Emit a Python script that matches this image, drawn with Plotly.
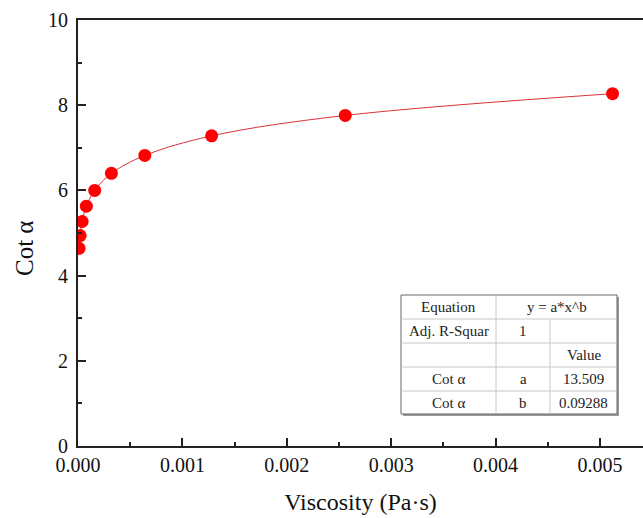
import plotly.graph_objects as go

# ---- data ----
viscosity = [0.00001, 0.00002, 0.00004, 0.00008, 0.00016, 0.00032, 0.00064, 0.00128, 0.00256, 0.00512]
cot_alpha = [4.64, 4.94, 5.27, 5.63, 6.00, 6.40, 6.82, 7.28, 7.76, 8.27]

x_tick_vals = [0.000, 0.001, 0.002, 0.003, 0.004, 0.005]
x_tick_text = ["0.000", "0.001", "0.002", "0.003", "0.004", "0.005"]
y_tick_vals = [0, 2, 4, 6, 8, 10]
y_tick_text = ["0", "2", "4", "6", "8", "10"]

x_title = "Viscosity (Pa·s)"
y_title = "Cot α"

table_rows = [
    ["Equation", "y = a*x^b", None],
    ["Adj. R-Squar", "1", ""],
    ["", "", "Value"],
    ["Cot α", "a", "13.509"],
    ["Cot α", "b", "0.09288"],
]

FONT = "Liberation Serif"
W, H = 643, 518
L, R, T, B = 78, 643, 20, 446  # plot area in pixels

def px(xp):
    return (xp - L) / (R - L)

def py(yp):
    return (B - yp) / (B - T)

fig = go.Figure()

# fitted curve (smooth line through the points)
fig.add_trace(go.Scatter(
    x=viscosity, y=cot_alpha, mode="lines",
    line=dict(color="#d9343a", width=1, shape="spline", smoothing=1.0),
    hoverinfo="skip", showlegend=False,
))
fig.add_trace(go.Scatter(
    x=viscosity, y=cot_alpha, mode="markers",
    marker=dict(color="#ff0000", size=13, line=dict(width=0)),
    showlegend=False,
))

# ---- table ----
tx0, tx1 = 401, 617
col_x = [401, 496, 550, 617]
row_y = [295, 319, 343, 367, 391, 414]
shapes = []
# shadow
shapes.append(dict(type="rect", xref="paper", yref="paper",
                   x0=px(tx0 + 2), x1=px(tx1 + 2), y0=py(row_y[-1] + 2), y1=py(row_y[0] + 2),
                   line=dict(width=0), fillcolor="#9a9a9a", layer="above"))
shapes.append(dict(type="rect", xref="paper", yref="paper",
                   x0=px(tx0), x1=px(tx1), y0=py(row_y[-1]), y1=py(row_y[0]),
                   line=dict(width=1, color="#666666"), fillcolor="white", layer="above"))
for yy in row_y[1:-1]:
    shapes.append(dict(type="line", xref="paper", yref="paper",
                       x0=px(tx0), x1=px(tx1), y0=py(yy), y1=py(yy),
                       line=dict(width=1, color="#c8c8c8"), layer="above"))
shapes.append(dict(type="line", xref="paper", yref="paper",
                   x0=px(col_x[1]), x1=px(col_x[1]), y0=py(row_y[0]), y1=py(row_y[-1]),
                   line=dict(width=1, color="#c8c8c8"), layer="above"))
shapes.append(dict(type="line", xref="paper", yref="paper",
                   x0=px(col_x[2]), x1=px(col_x[2]), y0=py(row_y[1]), y1=py(row_y[-1]),
                   line=dict(width=1, color="#c8c8c8"), layer="above"))

annotations = []
for ri, row in enumerate(table_rows):
    yc = (row_y[ri] + row_y[ri + 1]) / 2
    for ci, txt in enumerate(row):
        if txt is None or txt == "":
            continue
        if ri == 0 and ci == 1:
            xc = (col_x[1] + col_x[3]) / 2
        else:
            xc = (col_x[ci] + col_x[ci + 1]) / 2
        annotations.append(dict(xref="paper", yref="paper", x=px(xc), y=py(yc),
                                text=txt, showarrow=False, xanchor="center", yanchor="middle",
                                font=dict(family=FONT, size=15, color="#222")))

# y-axis title (placed slightly below the axis centre, as in the reference)
annotations.append(dict(xref="paper", yref="paper", x=px(24), y=py(249),
                        text=y_title, textangle=-90, showarrow=False,
                        xanchor="center", yanchor="middle",
                        font=dict(family=FONT, size=25, color="#111")))

fig.update_layout(
    width=W, height=H,
    margin=dict(l=L, r=W - R, t=T, b=H - B),
    paper_bgcolor="white", plot_bgcolor="white",
    font=dict(family=FONT, color="#111"),
    shapes=shapes, annotations=annotations,
    xaxis=dict(
        range=[0, (R - L) / 104.4 * 0.001],
        tickvals=x_tick_vals, ticktext=x_tick_text,
        ticks="inside", ticklen=8, tickwidth=1.5, tickcolor="#222",
        minor=dict(dtick=0.0005, tick0=0, ticks="inside", ticklen=4, tickwidth=1.5, tickcolor="#222"),
        showline=True, linewidth=2, linecolor="#222", mirror=True,
        showgrid=False, zeroline=False,
        tickfont=dict(size=20, family=FONT, color="#111"),
        title=dict(text=x_title, font=dict(size=24, family=FONT, color="#111"), standoff=18),
    ),
    yaxis=dict(
        range=[0, 10],
        tickvals=y_tick_vals, ticktext=y_tick_text,
        ticks="inside", ticklen=8, tickwidth=1.5, tickcolor="#222",
        minor=dict(dtick=1, tick0=0, ticks="inside", ticklen=4, tickwidth=1.5, tickcolor="#222"),
        showline=True, linewidth=2, linecolor="#222",
        showgrid=False, zeroline=False,
        tickfont=dict(size=20, family=FONT, color="#111"),
        ticklabelstandoff=4,
    ),
)

fig.write_html("out.html")
